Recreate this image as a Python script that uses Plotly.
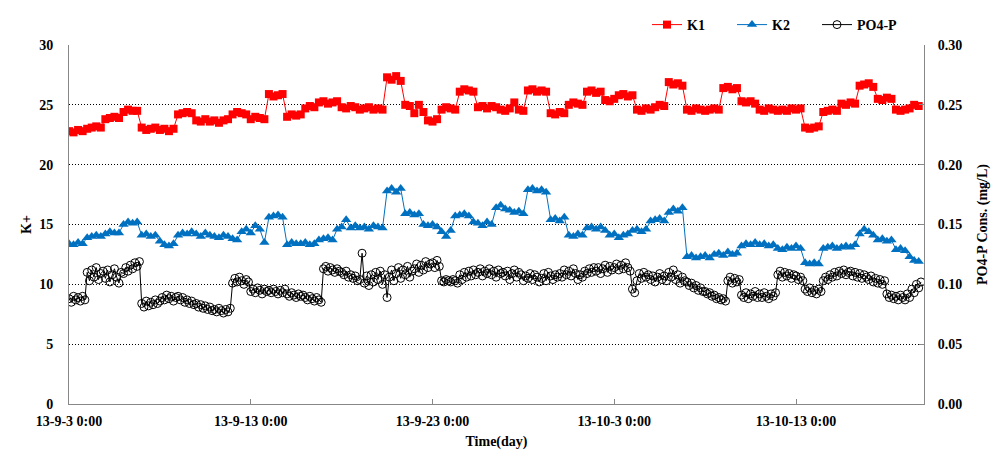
import pandas as pd
import plotly.graph_objects as go

start = "2013-09-03 00:00"
# K1 / K2: 6-hourly readings; PO4-P: 3-hourly readings
times_k = pd.date_range(start, periods=188, freq="6h")
times_p = pd.date_range(start, periods=376, freq="3h")

k1 = [
    22.8, 22.7, 22.9, 22.8,  23.0, 23.1, 23.2, 23.1,  23.8, 23.9, 24.0, 23.9,
    24.4, 24.6, 24.5, 24.5,  23.1, 22.9, 23.0, 23.1,  22.9, 23.0, 22.8, 23.0,
    24.2, 24.3, 24.4, 24.3,  23.7, 23.6, 23.8, 23.6,  23.7, 23.5, 23.7, 23.8,
    24.2, 24.4, 24.3, 24.2,  23.8, 24.0, 23.9, 23.8,  25.9, 25.7, 25.8, 25.9,
    24.0, 24.2, 24.1, 24.2,  24.7, 24.9, 24.8, 25.2,  25.3, 25.1, 25.2, 25.3,
    24.8, 24.7, 24.9, 24.8,  24.6, 24.7, 24.8, 24.6,  24.7, 24.6, 27.3, 27.1,
    27.4, 27.0, 25.0, 24.9,  24.3, 25.0, 24.4, 23.7,  23.6, 23.8, 24.6, 24.8,
    24.7, 24.6, 26.1, 26.3,  26.2, 26.1, 24.8, 24.9,  24.7, 24.9, 24.8, 24.6,
    24.5, 24.7, 25.2, 24.6,  24.5, 26.2, 26.3, 26.1,  26.2, 26.1, 24.3, 24.2,
    24.4, 24.3, 25.0, 25.2,  25.1, 25.0, 26.1, 26.2,  26.0, 26.1, 25.4, 25.3,
    25.5, 25.8, 25.9, 25.7,  25.8, 24.6, 24.5, 24.7,  24.6, 24.8, 25.0, 24.9,
    26.9, 26.7, 26.8, 26.6,  24.6, 24.5, 24.7, 24.6,  24.5, 24.6, 24.7, 24.6,
    26.4, 26.5, 26.3, 26.4,  25.3, 25.2, 25.3, 25.1,  24.6, 24.5, 24.7, 24.6,
    24.5, 24.6, 24.5, 24.7,  24.6, 24.7, 23.1, 23.0,  23.1, 23.2, 24.4, 24.5,
    24.6, 24.5, 25.1, 25.0,  25.2, 25.1, 26.6, 26.7,  26.8, 26.5, 25.5, 25.4,
    25.6, 25.5, 24.6, 24.5,  24.6, 24.7, 25.0, 24.9,
]

k2 = [
    13.4, 13.3, 13.5, 13.4,  13.9, 14.0, 14.1, 14.0,  14.2, 14.4, 14.3, 14.3,
    15.0, 15.2, 15.1, 15.2,  14.1, 14.2, 14.0, 14.1,  13.6, 13.3, 13.2, 13.4,
    14.1, 14.3, 14.2, 14.4,  14.2, 14.0, 14.3, 14.1,  14.0, 13.9, 14.1, 14.0,
    13.8, 13.7, 14.4, 14.6,  14.3, 14.9, 14.6, 13.5,  15.6, 15.7, 15.8, 15.6,
    13.3, 13.5, 13.4, 13.4,  13.5, 13.3, 13.4, 13.7,  13.8, 13.9, 13.7, 14.6,
    14.8, 15.4, 14.7, 14.9,  14.7, 14.8, 14.6, 14.9,  14.8, 14.7, 17.8, 18.0,
    17.7, 18.0, 15.9, 16.0,  15.8, 15.9, 15.0, 14.9,  15.0, 14.8, 14.4, 14.0,
    14.5, 15.7, 15.8, 15.9,  15.7, 15.2, 15.1, 14.9,  15.2, 15.0, 16.4, 16.6,
    16.3, 16.2, 16.0, 16.1,  15.9, 17.9, 18.0, 17.8,  17.9, 17.7, 15.4, 15.5,
    15.3, 15.6, 14.1, 14.0,  14.2, 14.1, 14.7, 14.8,  14.6, 14.8, 14.5, 14.1,
    14.2, 13.9, 14.1, 14.2,  14.5, 14.6, 14.4, 14.6,  15.3, 15.4, 15.5, 15.3,
    16.0, 16.3, 16.1, 16.4,  12.3, 12.4, 12.2, 12.3,  12.4, 12.2, 12.5, 12.6,
    12.4, 12.7, 12.5, 12.6,  13.2, 13.4, 13.3, 13.5,  13.3, 13.4, 13.2, 13.3,
    13.0, 12.9, 13.1, 13.0,  13.2, 13.0, 11.8, 11.7,  11.8, 11.7, 13.0, 13.1,
    13.2, 13.0, 13.1, 13.2,  13.1, 13.3, 14.2, 14.6,  14.4, 14.1, 13.7, 13.8,
    13.6, 13.7, 12.9, 13.0,  12.8, 12.3, 12.0, 11.9,
]

po4 = [
    0.088, 0.085, 0.090, 0.087, 0.089, 0.086, 0.090, 0.087,
    0.110, 0.103, 0.112, 0.106, 0.114, 0.104, 0.109, 0.111,
    0.105, 0.112, 0.102, 0.108, 0.113, 0.106, 0.101, 0.110,
    0.109, 0.114, 0.111, 0.116, 0.113, 0.118, 0.115, 0.119,
    0.084, 0.081, 0.086, 0.082, 0.085, 0.083, 0.087, 0.084,
    0.086, 0.089, 0.087, 0.091, 0.088, 0.090, 0.086, 0.089,
    0.090, 0.087, 0.089, 0.085, 0.087, 0.084, 0.086, 0.083,
    0.084, 0.081, 0.083, 0.080, 0.082, 0.079, 0.081, 0.078,
    0.079, 0.077, 0.080, 0.078, 0.076, 0.079, 0.077, 0.080,
    0.101, 0.105, 0.102, 0.106, 0.103, 0.100, 0.104, 0.102,
    0.094, 0.096, 0.093, 0.097, 0.095, 0.092, 0.096, 0.094,
    0.095, 0.093, 0.096, 0.094, 0.092, 0.095, 0.093, 0.096,
    0.092, 0.090, 0.093, 0.091, 0.089, 0.092, 0.090, 0.091,
    0.089, 0.087, 0.090, 0.088, 0.086, 0.089, 0.087, 0.085,
    0.113, 0.115, 0.111, 0.114, 0.112, 0.110, 0.113, 0.111,
    0.110, 0.108, 0.111, 0.106, 0.108, 0.105, 0.107, 0.103,
    0.104, 0.126, 0.101, 0.107, 0.099, 0.108, 0.102, 0.110,
    0.104, 0.111, 0.100, 0.108, 0.089, 0.106, 0.112, 0.103,
    0.109, 0.114, 0.105, 0.112, 0.108, 0.115, 0.106, 0.111,
    0.113, 0.117, 0.110, 0.116, 0.112, 0.119, 0.114, 0.117,
    0.118, 0.114, 0.120, 0.115, 0.103, 0.102, 0.104, 0.103,
    0.102, 0.104, 0.103, 0.101, 0.108, 0.104, 0.110, 0.106,
    0.111, 0.107, 0.112, 0.108, 0.110, 0.113, 0.107, 0.111,
    0.109, 0.113, 0.108, 0.111, 0.106, 0.112, 0.109, 0.110,
    0.107, 0.111, 0.104, 0.109, 0.112, 0.106, 0.110, 0.108,
    0.103, 0.107, 0.105, 0.109, 0.104, 0.108, 0.106, 0.102,
    0.105, 0.109, 0.103, 0.110, 0.107, 0.104, 0.108, 0.106,
    0.109, 0.106, 0.112, 0.108, 0.111, 0.107, 0.113, 0.109,
    0.104, 0.108, 0.106, 0.111, 0.109, 0.113, 0.110, 0.114,
    0.111, 0.114, 0.109, 0.113, 0.116, 0.110, 0.115, 0.112,
    0.114, 0.117, 0.112, 0.116, 0.113, 0.118, 0.114, 0.111,
    0.096, 0.093, 0.103, 0.109, 0.105, 0.110, 0.106, 0.108,
    0.104, 0.107, 0.102, 0.106, 0.109, 0.104, 0.107, 0.103,
    0.110, 0.106, 0.112, 0.104, 0.108, 0.101, 0.106, 0.103,
    0.102, 0.099, 0.101, 0.097, 0.099, 0.095, 0.097, 0.094,
    0.094, 0.092, 0.093, 0.090, 0.091, 0.088, 0.089, 0.087,
    0.088, 0.086, 0.103, 0.106, 0.101, 0.105, 0.102, 0.104,
    0.091, 0.089, 0.093, 0.088, 0.092, 0.090, 0.094, 0.089,
    0.092, 0.089, 0.093, 0.090, 0.088, 0.092, 0.090, 0.093,
    0.108, 0.111, 0.106, 0.110, 0.107, 0.109, 0.105, 0.108,
    0.107, 0.104, 0.106, 0.103, 0.096, 0.094, 0.097, 0.093,
    0.095, 0.092, 0.096, 0.094, 0.103, 0.106, 0.104, 0.108,
    0.106, 0.110, 0.107, 0.111, 0.109, 0.112, 0.108, 0.110,
    0.111, 0.107, 0.110, 0.106, 0.109, 0.105, 0.108, 0.106,
    0.104, 0.107, 0.102, 0.105, 0.101, 0.104, 0.100, 0.103,
    0.092, 0.089, 0.091, 0.088, 0.090, 0.087, 0.091, 0.089,
    0.087, 0.092, 0.089, 0.096, 0.093, 0.100, 0.097, 0.102,
]

tick_dates = ["2013-09-03", "2013-09-13", "2013-09-23", "2013-10-03", "2013-10-13"]
tick_labels = ["13-9-3 0:00", "13-9-13 0:00", "13-9-23 0:00", "13-10-3 0:00", "13-10-13 0:00"]
x_range = ["2013-09-03 00:00", "2013-10-20 01:00"]

FONT = "Liberation Serif"
AXIS_GRAY = "#888888"
GRID_DASH = "1px,2px"
PAGE_OFFSET = 8  # default body margin of the html page

fig = go.Figure()
fig.add_trace(go.Scatter(
    x=times_k, y=k1, name="K1", mode="lines+markers",
    line=dict(color="#FF0000", width=1),
    marker=dict(symbol="square", size=8, color="#FF0000"),
))
fig.add_trace(go.Scatter(
    x=times_k, y=k2, name="K2", mode="lines+markers",
    line=dict(color="#0070C0", width=1),
    marker=dict(symbol="triangle-up", size=9, color="#0070C0"),
))
fig.add_trace(go.Scatter(
    x=times_p, y=po4, name="PO4-P", mode="lines+markers", yaxis="y2",
    line=dict(color="#000000", width=1),
    marker=dict(symbol="circle-open", size=8, color="#000000", line=dict(width=1)),
))

tf = dict(family=FONT, size=14, color="#000000", weight="bold")
title_font = dict(family=FONT, size=14, color="#000000", weight="bold")

fig.update_layout(
    width=1008, height=468,
    margin=dict(l=69 - PAGE_OFFSET, r=84 + PAGE_OFFSET, t=45 - PAGE_OFFSET, b=64 + PAGE_OFFSET),
    paper_bgcolor="white", plot_bgcolor="white",
    font=dict(family=FONT, size=14, color="#000000"),
    showlegend=True,
    legend=dict(
        orientation="h",
        xref="container", x=(647 - PAGE_OFFSET) / 1008, xanchor="left",
        yref="container", y=1 - (25 - PAGE_OFFSET) / 468, yanchor="middle",
        font=dict(family=FONT, size=14, color="#000000", weight="bold"),
        itemwidth=30, entrywidth=40, entrywidthmode="pixels",
        bgcolor="rgba(0,0,0,0)",
    ),
    xaxis=dict(
        type="date", range=x_range, automargin=False,
        tickvals=tick_dates, ticktext=tick_labels,
        tickfont=tf, ticks="inside", ticklen=5, tickcolor=AXIS_GRAY,
        showline=True, linecolor=AXIS_GRAY, linewidth=1,
        showgrid=False, zeroline=False,
        ticklabelstandoff=4,
        title=dict(text="Time(day)", font=title_font, standoff=8),
    ),
    yaxis=dict(
        range=[0, 30], dtick=5, tickfont=tf, automargin=False,
        showline=True, linecolor=AXIS_GRAY, linewidth=1,
        showgrid=True, gridcolor="#000000", griddash=GRID_DASH, gridwidth=1,
        zeroline=False, ticks="", ticklabelstandoff=12,
        title=dict(text="K+", font=title_font, standoff=4),
    ),
    yaxis2=dict(
        range=[0, 0.30], dtick=0.05, tickformat=".2f", tickfont=tf,
        overlaying="y", side="right", automargin=False,
        showline=True, linecolor=AXIS_GRAY, linewidth=1,
        showgrid=False, zeroline=False,
        ticks="inside", ticklen=5, tickcolor=AXIS_GRAY, ticklabelstandoff=10,
        title=dict(text="PO4-P Cons. (mg/L)", font=title_font, standoff=15),
    ),
)

fig.write_html("out.html")
